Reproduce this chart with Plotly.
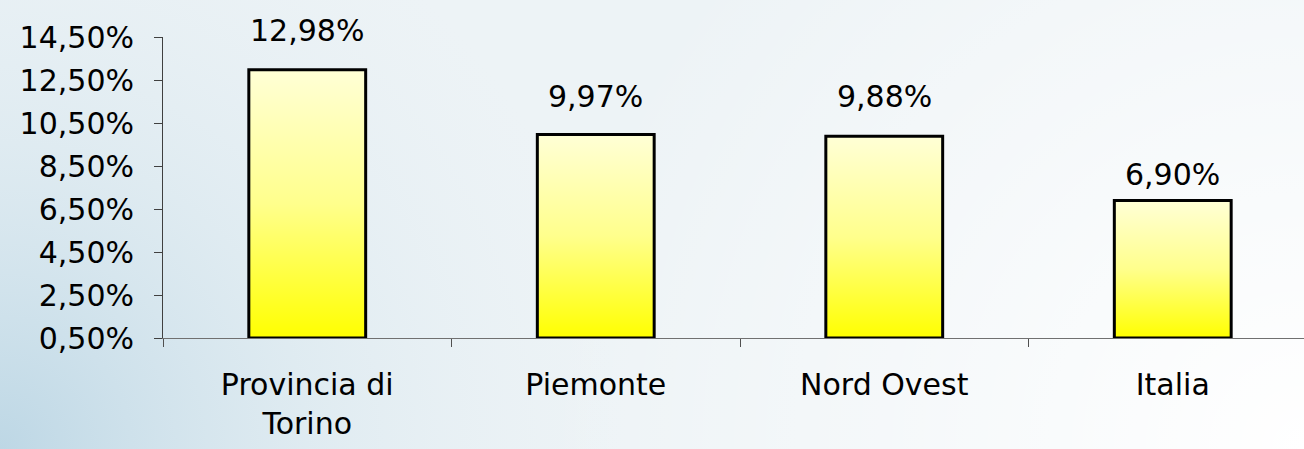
import base64
import plotly.graph_objects as go

# ---- data ----
categories = ["Provincia di<br>Torino", "Piemonte", "Nord Ovest", "Italia"]
values = [12.98, 9.97, 9.88, 6.90]
y_ticks = [0.5, 2.5, 4.5, 6.5, 8.5, 10.5, 12.5, 14.5]


def pct(v):
    return f"{v:.2f}".replace(".", ",") + "%"


# ---- style ----
FONT = "DejaVu Sans"
FS = 30
W, H = 1304, 449
ML, MR, MT, MB = 163, 0, 37, 111
PW, PH = W - ML - MR, H - MT - MB
BAR_W = 0.405
CAT_PX = 288.5
label_shift = [20, 18, 20, 6]

svg = f"""<svg xmlns='http://www.w3.org/2000/svg' width='{W}' height='{H}' viewBox='0 0 {W} {H}' preserveAspectRatio='none'>
<defs>
<radialGradient id='b' gradientUnits='userSpaceOnUse' cx='0' cy='{H}' r='620'>
<stop offset='0' stop-color='#bdd7e5' stop-opacity='1'/>
<stop offset='0.5' stop-color='#d6e6ee' stop-opacity='0.6'/>
<stop offset='1' stop-color='#e4eef3' stop-opacity='0'/>
</radialGradient>
<radialGradient id='w' gradientUnits='userSpaceOnUse' cx='{W}' cy='{H}' r='760'>
<stop offset='0' stop-color='#ffffff' stop-opacity='1'/>
<stop offset='1' stop-color='#ffffff' stop-opacity='0'/>
</radialGradient>
</defs>
<rect width='{W}' height='{H}' fill='#edf3f6'/>
<rect width='{W}' height='{H}' fill='url(#b)'/>
<rect width='{W}' height='{H}' fill='url(#w)'/>
</svg>"""
bg_uri = "data:image/svg+xml;base64," + base64.b64encode(svg.encode()).decode()

fig = go.Figure()
y0 = y_ticks[0]
for i, v in enumerate(values):
    xs = [i - BAR_W / 2, i - BAR_W / 2, i + BAR_W / 2, i + BAR_W / 2, i - BAR_W / 2]
    ys = [y0, v, v, y0, y0]
    fig.add_trace(go.Scatter(
        x=xs, y=ys, mode="lines", fill="toself",
        line=dict(color="black", width=3),
        fillgradient=dict(type="vertical",
                          colorscale=[[0, "#ffff00"], [0.5, "#ffff8c"], [1, "#ffffd6"]]),
        hoverinfo="skip", showlegend=False,
    ))
    fig.add_annotation(
        x=i, y=v, text=pct(v),
        showarrow=False, yanchor="bottom", yshift=label_shift[i],
        font=dict(family=FONT, size=FS, color="black"),
    )

x_end = -0.5 + PW / CAT_PX
fig.update_layout(
    width=W, height=H,
    margin=dict(l=ML, r=MR, t=MT, b=MB, pad=0),
    paper_bgcolor="rgba(0,0,0,0)", plot_bgcolor="rgba(0,0,0,0)",
    font=dict(family=FONT, size=FS, color="black"),
    images=[dict(source=bg_uri, xref="paper", yref="paper",
                 x=-ML / PW, y=1 + MT / PH, sizex=W / PW, sizey=H / PH,
                 xanchor="left", yanchor="top", sizing="stretch", layer="below")],
    xaxis=dict(
        range=[-0.5, x_end], tickmode="array",
        tickvals=list(range(len(categories))), ticktext=categories,
        ticks="", showgrid=False, zeroline=False,
        showline=True, linecolor="#707070", linewidth=1,
        ticklabelstandoff=20,
        minor=dict(tickmode="array", tickvals=[k - 0.5 for k in range(len(categories) + 1)],
                   ticks="outside", ticklen=8, tickcolor="#505050", tickwidth=1, showgrid=False),
        fixedrange=True,
    ),
    yaxis=dict(
        range=[y_ticks[0], y_ticks[-1]], tickmode="array", tickvals=y_ticks,
        ticktext=[pct(t) for t in y_ticks],
        ticks="outside", ticklen=8, tickcolor="#404040", tickwidth=1,
        showline=True, linecolor="#404040", linewidth=1,
        showgrid=False, zeroline=False, ticklabelstandoff=14,
        fixedrange=True,
    ),
)
fig.write_html("out.html", config={"displayModeBar": False},
               post_script="document.body.style.margin='0';document.body.style.overflow='hidden';")
